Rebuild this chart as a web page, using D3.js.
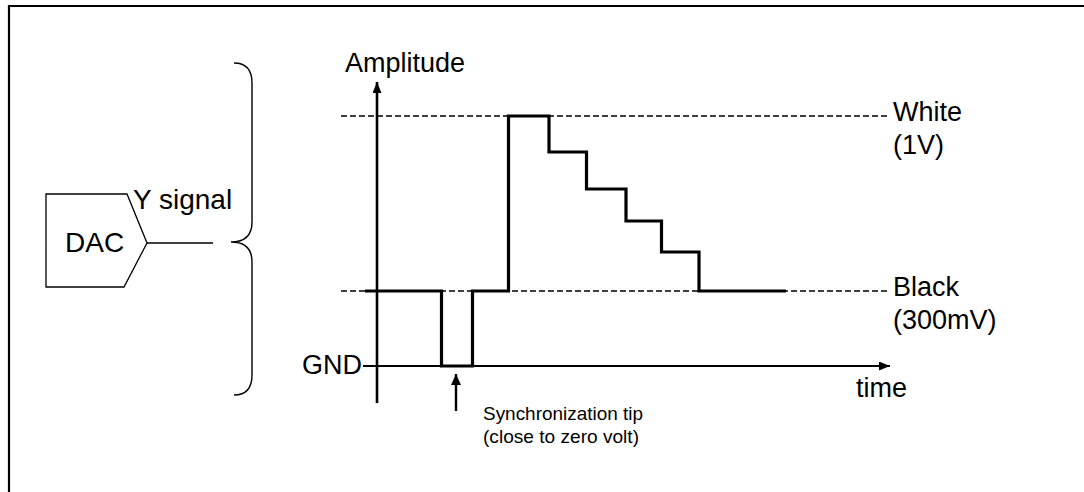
<!DOCTYPE html>
<html>
<head>
<meta charset="utf-8">
<script src="https://cdn.jsdelivr.net/npm/d3@7"></script>
<style>
    body { margin: 0; background: #fff; }
    svg { display: block; font-family: "Liberation Sans", Arial, sans-serif; }
</style>
</head>
<body>
<svg id="chart" width="1084" height="492"></svg>
<script>
// waveform breakpoints (time in arbitrary units, level in volts)
const waveTime = [-2.4, 12.9, 19.1, 26.3, 34.4, 41.9, 49.8, 56.9, 64.4, 81.8];
const waveLevel = [0.3, 0, 0.3, 1, 0.856, 0.708, 0.58, 0.456, 0.3, 0.3];

// dashed reference levels and their labels
const refLevels = [1, 0.3];
const refLabels = [["White", "(1V)"], ["Black", "(300mV)"]];

const axisLabels = { y: "Amplitude", x: "time", gnd: "GND" };
const syncNote = ["Synchronization tip", "(close to zero volt)"];
const syncTime = 15.8;
const dacLabels = { box: "DAC", signal: "Y signal" };

const LABEL_SIZE = 27;

const svg = d3.select("#chart");
const x = d3.scaleLinear().domain([0, 100]).range([377, 877]);
const y = d3.scaleLinear().domain([0, 1]).range([366, 116]);

const defs = svg.append("defs");
const arrowMarker = (id, w, h) => defs.append("marker")
    .attr("id", id)
    .attr("viewBox", `0 0 ${ w } ${ h }`)
    .attr("refX", w)
    .attr("refY", h / 2)
    .attr("markerWidth", w)
    .attr("markerHeight", h)
    .attr("markerUnits", "userSpaceOnUse")
    .attr("orient", "auto")
    .append("path")
    .attr("d", `M0,0L${ w },${ h / 2 }L0,${ h }Z`)
    .attr("fill", "#000");

arrowMarker("arrow-axis", 11, 9);
arrowMarker("arrow-small", 11, 10);

// frame
svg.append("path")
    .attr("d", "M9,492V6H1084")
    .attr("fill", "none")
    .attr("stroke", "#000")
    .attr("stroke-width", 2.2);

// dashed levels
svg.selectAll(".ref-line")
    .data(refLevels)
    .join("line")
    .attr("class", "ref-line")
    .attr("x1", x(-7.2))
    .attr("x2", x(102.2))
    .attr("y1", d => y(d))
    .attr("y2", d => y(d))
    .attr("stroke", "#000")
    .attr("stroke-width", 1.6)
    .attr("stroke-dasharray", "6,3");

svg.selectAll(".ref-label")
    .data(refLevels)
    .join("text")
    .attr("class", "ref-label")
    .attr("x", x(103.2))
    .attr("y", d => y(d) + 5)
    .attr("font-size", LABEL_SIZE)
    .selectAll("tspan")
    .data((d, i) => refLabels[i])
    .join("tspan")
    .attr("x", x(103.2))
    .attr("dy", (d, i) => i ? 33 : 0)
    .text(d => d);

// amplitude axis
svg.append("line")
    .attr("x1", x(0)).attr("x2", x(0))
    .attr("y1", y(-0.148)).attr("y2", y(1.136))
    .attr("stroke", "#000")
    .attr("stroke-width", 2.6)
    .attr("marker-end", "url(#arrow-axis)");

svg.append("text")
    .attr("x", x(-6.4))
    .attr("y", y(1.176))
    .attr("font-size", LABEL_SIZE)
    .text(axisLabels.y);

// time axis (GND)
svg.append("line")
    .attr("x1", x(-2.8)).attr("x2", x(102.6))
    .attr("y1", y(0)).attr("y2", y(0))
    .attr("stroke", "#000")
    .attr("stroke-width", 2.2)
    .attr("marker-end", "url(#arrow-axis)");

svg.append("text")
    .attr("x", x(95.8))
    .attr("y", y(-0.124))
    .attr("font-size", LABEL_SIZE)
    .text(axisLabels.x);

svg.append("text")
    .attr("x", x(-3))
    .attr("y", y(-0.03))
    .attr("text-anchor", "end")
    .attr("font-size", LABEL_SIZE)
    .text(axisLabels.gnd);

// waveform
const line = d3.line()
    .x(d => x(d[0]))
    .y(d => y(d[1]))
    .curve(d3.curveStepAfter);

svg.append("path")
    .datum(d3.zip(waveTime, waveLevel))
    .attr("d", line)
    .attr("fill", "none")
    .attr("stroke", "#000")
    .attr("stroke-width", 3.2)
    .attr("stroke-linejoin", "miter");

// sync tip note
svg.append("line")
    .attr("x1", x(syncTime)).attr("x2", x(syncTime))
    .attr("y1", y(-0.18)).attr("y2", y(-0.032))
    .attr("stroke", "#000")
    .attr("stroke-width", 2.4)
    .attr("marker-end", "url(#arrow-small)");

svg.append("text")
    .attr("font-size", 18.5)
    .selectAll("tspan")
    .data(syncNote)
    .join("tspan")
    .attr("x", x(21.2))
    .attr("y", (d, i) => y(-0.214) + i * 23)
    .attr("textLength", (d, i) => i ? 156 : 160)
    .attr("lengthAdjust", "spacingAndGlyphs")
    .text(d => d);

// curly brace spanning the signal
const braceTop = y(1.212), braceBot = y(-0.116), braceMid = y(0.496);
svg.append("path")
    .attr("d", `M234,${ braceTop }Q252,${ braceTop } 252,${ braceTop + 20 }`
        + `L252,${ braceMid - 20 }Q252,${ braceMid } 231,${ braceMid }`
        + `Q252,${ braceMid } 252,${ braceMid + 20 }`
        + `L252,${ braceBot - 20 }Q252,${ braceBot } 234,${ braceBot }`)
    .attr("fill", "none")
    .attr("stroke", "#000")
    .attr("stroke-width", 1.4);

// DAC block
svg.append("path")
    .attr("d", "M46,194H127L147,243L124,287H46Z")
    .attr("fill", "#fff")
    .attr("stroke", "#000")
    .attr("stroke-width", 1.3);

svg.append("line")
    .attr("x1", 147).attr("x2", 213)
    .attr("y1", 243).attr("y2", 243)
    .attr("stroke", "#000")
    .attr("stroke-width", 1.3);

svg.append("text")
    .attr("x", 65)
    .attr("y", 252)
    .attr("font-size", 28)
    .text(dacLabels.box);

svg.append("text")
    .attr("x", 133)
    .attr("y", 209)
    .attr("font-size", 28)
    .text(dacLabels.signal);
</script>
</body>
</html>
